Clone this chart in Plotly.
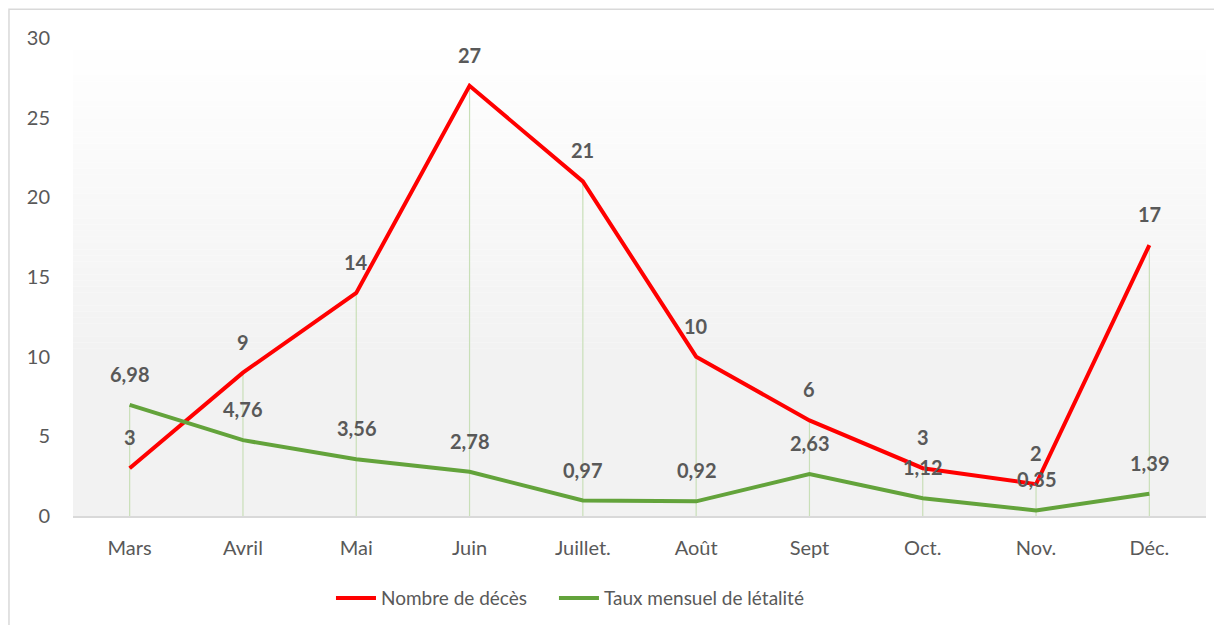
import plotly.graph_objects as go

months = ["Mars", "Avril", "Mai", "Juin", "Juillet.", "Août", "Sept", "Oct.", "Nov.", "Déc."]
deaths = [3, 9, 14, 27, 21, 10, 6, 3, 2, 17]
rate = [6.98, 4.76, 3.56, 2.78, 0.97, 0.92, 2.63, 1.12, 0.35, 1.39]

FONT = "Lato"
GREY = "#595959"
RED = "#ff0000"
GREEN = "#63a33b"

fig = go.Figure()

# drop lines (from highest point down to axis)
dx, dy = [], []
for m, a, b in zip(months, deaths, rate):
    dx += [m, m, None]
    dy += [0, max(a, b), None]
fig.add_trace(go.Scatter(x=dx, y=dy, mode="lines", line=dict(color="#c9dfb8", width=1.2),
                         showlegend=False, hoverinfo="skip"))

fig.add_trace(go.Scatter(x=months, y=deaths, mode="lines", name="Nombre de décès",
                         line=dict(color=RED, width=4), legend="legend"))
fig.add_trace(go.Scatter(x=months, y=rate, mode="lines", name="Taux mensuel de létalité",
                         line=dict(color=GREEN, width=4), legend="legend2"))

annotations = []
for m, v in zip(months, deaths):
    annotations.append(dict(x=m, y=v, text=str(v), showarrow=False, yshift=31,
                            font=dict(family=FONT, size=20, color=GREY, weight="bold")))
for m, v in zip(months, rate):
    annotations.append(dict(x=m, y=v, text=f"{v:.2f}".replace(".", ","), showarrow=False, yshift=31,
                            font=dict(family=FONT, size=20, color=GREY, weight="bold")))

# gradient background of the plot area
shapes = []
n = 50
top, stop = 1.0, 0.35
for i in range(n):
    y1 = top - (top - stop) * i / n
    y0 = top - (top - stop) * (i + 1) / n
    t = (i + 0.5) / n
    c = round(255 - (255 - 242) * t)
    shapes.append(dict(type="rect", xref="paper", yref="paper", x0=0, x1=1, y0=y0, y1=y1,
                       fillcolor=f"rgb({c},{c},{c})", line=dict(width=0), layer="below"))
shapes.append(dict(type="rect", xref="paper", yref="paper", x0=0, x1=1, y0=0, y1=stop,
                   fillcolor="rgb(242,242,242)", line=dict(width=0), layer="below"))
# chart border
shapes.append(dict(type="rect", xref="paper", yref="paper", x0=-0.0565, x1=1.05, y0=-0.3, y1=1.06,
                   line=dict(color="#d9d9d9", width=1.5), fillcolor="rgba(0,0,0,0)"))

leg = dict(orientation="h", y=-0.172, yanchor="middle", xanchor="left",
           font=dict(size=19, color=GREY), itemwidth=40, bgcolor="rgba(0,0,0,0)")

fig.update_layout(
    width=1206, height=617,
    margin=dict(l=65, r=8, t=30, b=102),
    paper_bgcolor="white", plot_bgcolor="white",
    font=dict(family=FONT, size=20, color=GREY),
    xaxis=dict(type="category", range=[-0.5, 9.5], showgrid=False, zeroline=False,
               showline=True, linecolor="#d9d9d9", linewidth=1.5,
               ticks="", ticklabelstandoff=13, tickfont=dict(size=20, color=GREY)),
    yaxis=dict(range=[0, 30], dtick=5, showgrid=False, zeroline=False, showline=False,
               ticks="", ticklabelstandoff=22, tickfont=dict(size=20, color=GREY)),
    legend=dict(leg, x=0.2277),
    legend2=dict(leg, x=0.4245),
    annotations=annotations,
    shapes=shapes,
    hovermode=False,
)

fig.write_html("out.html")
